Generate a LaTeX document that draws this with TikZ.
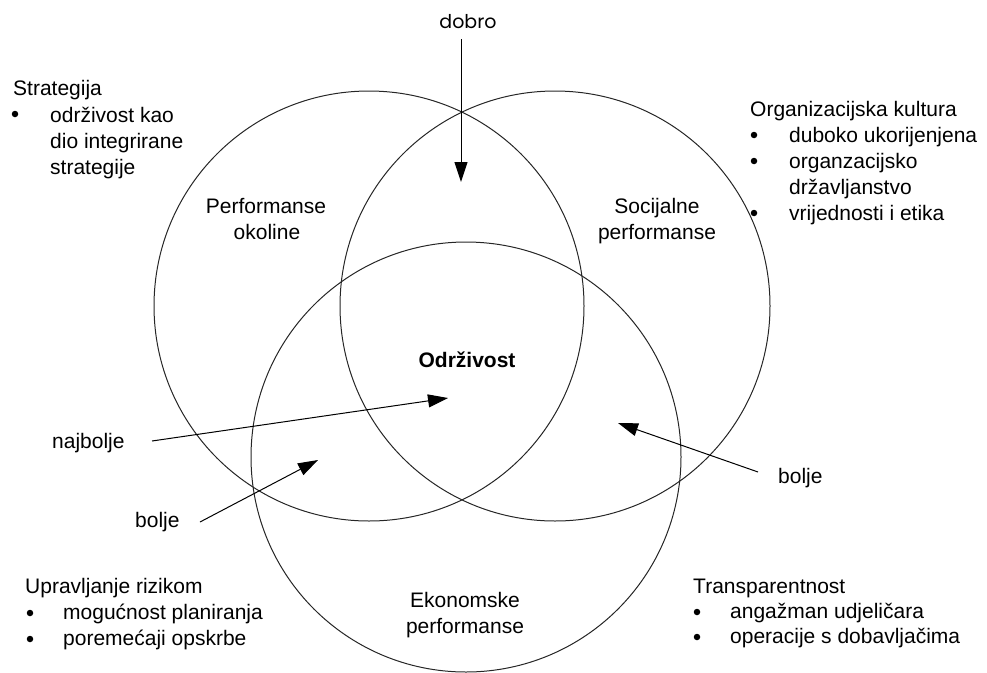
\documentclass[tikz,border=0pt]{standalone}
\usepackage{fontspec}
\setmainfont{Liberation Sans}
\newfontfamily\dobrofont{Poppins}
\usetikzlibrary{arrows.meta}
\begin{document}
\begin{tikzpicture}
[x=1pt,y=-1pt,
  circleDecorate/.style={line width=1pt,draw=black!85},%
  textDecorate/.style={anchor=base west,inner sep=0pt,font=\fontsize{21}{26}\selectfont},%
  labelDecorate/.style={anchor=base,inner sep=0pt,font=\fontsize{21}{26}\selectfont},%
  bulletDecorate/.style={shape=circle,fill=black,inner sep=0pt,minimum size=6.5pt},%
  arrowDecorate/.style={line width=1pt,-{Triangle[length=20pt,width=13pt]}}]
\useasboundingbox (0,0) rectangle (987,672);
%% circles
\foreach \nodename/\x/\y in {
  okolina/369/306, socijalno/555/306, ekonomija/466/457}
{
  \coordinate (\nodename) at (\x,\y);
  \draw[circleDecorate] (\nodename) circle[radius=215];
}
%% labels inside the circles
\foreach \nodename/\x/\y/\txt in {
  po1/266/213/Performanse, po2/267/239/okoline,
  sp1/657/213/Socijalne, sp2/657/239/performanse,
  ep1/465/607/Ekonomske, ep2/465/633/performanse}
{
  \node (\nodename) at (\x,\y) [labelDecorate] {\txt};
}
\node (odrzivost) at (467,367) [labelDecorate,font=\fontsize{21}{26}\selectfont\bfseries] {Održivost};
%% text blocks
\foreach \nodename/\x/\y/\txt in {
  st0/13/95/Strategija, st1/50/122/održivost kao, st2/50/148/dio integrirane,
  st3/50/174/strategije,
  ok0/750/116/Organizacijska kultura, ok1/789/142/duboko ukorijenjena,
  ok2/789/168/organzacijsko, ok3/789/194/državljanstvo,
  ok4/789/220/vrijednosti i etika,
  ur0/25/593/Upravljanje rizikom, ur1/63/619/mogućnost planiranja,
  ur2/63/645/poremećaji opskrbe,
  tr0/693/593/Transparentnost, tr1/730/618/angažman udjeličara,
  tr2/730/643/operacije s dobavljačima}
{
  \node (\nodename) at (\x,\y) [textDecorate] {\txt};
}
%% bullets
\foreach \nodename/\x/\y in {
  b1/15/114, b2/754/135, b3/754/161, b4/754/213,
  b5/30/613, b6/30/639, b7/697/612, b8/697/637}
{
  \node (\nodename) at (\x,\y) [bulletDecorate] {};
}
%% arrow labels
\node (dobro) at (468,28) [labelDecorate,font=\fontsize{19}{24}\dobrofont] {dobro};
\foreach \nodename/\x/\y/\txt in {
  najbolje/52/448/najbolje, boljeL/135/527/bolje, boljeR/778/483/bolje}
{
  \node (\nodename) at (\x,\y) [textDecorate] {\txt};
}
%% arrows
\foreach \nodename/\x/\y in {
  dobroA/461/39, dobroB/461/182, najA/152/441, najB/448/398,
  blA/200/522, blB/318/460, brA/758/472, brB/618/423}
{
  \coordinate (\nodename) at (\x,\y);
}
\path
\foreach \startnode/\endnode in {
  dobroA/dobroB, najA/najB, blA/blB, brA/brB}
{
  (\startnode) edge[arrowDecorate] (\endnode)
};
\end{tikzpicture}
\end{document}
